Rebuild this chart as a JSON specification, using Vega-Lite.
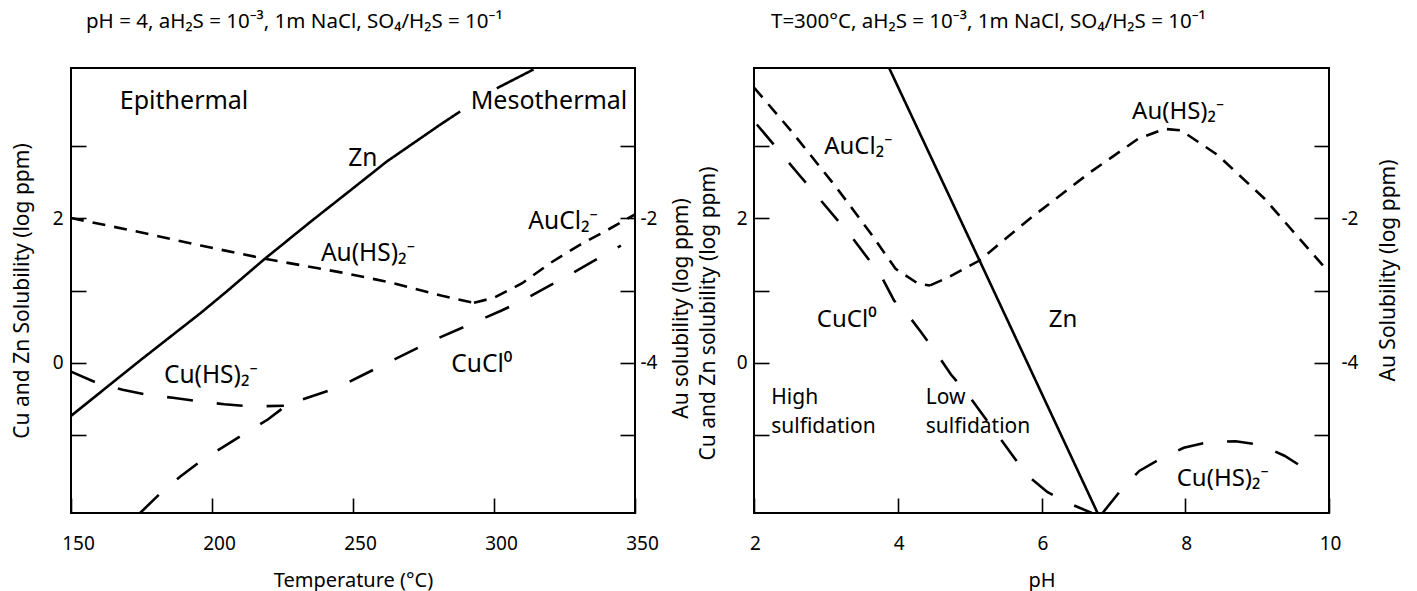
{
  "$schema": "https://vega.github.io/schema/vega-lite/v6.json",
  "background": "white",
  "padding": {"left": 10, "top": 10, "right": 8, "bottom": 5},
  "spacing": 3,
  "config": {
    "font": "Noto Sans",
    "view": {"stroke": "black", "strokeWidth": 2},
    "axis": {"domain": false, "grid": false, "tickColor": "black", "tickWidth": 1.6, "tickSize": -15, "labelFontSize": 19, "labelColor": "black", "titleFontSize": 21, "titleFontWeight": "normal", "titleColor": "black", "labelFlush": false, "labelBound": false, "labelOverlap": false},
    "axisX": {"titleFontSize": 20},
    "title": {"fontSize": 20.5, "fontWeight": "normal", "anchor": "start", "frame": "group", "color": "black"}
  },
  "datasets": {
    "curves": [
      {"panel": "T", "metal": "CuZn", "sp": "Zn", "seg": 1, "x": 150, "v": -0.73},
      {"panel": "T", "metal": "CuZn", "sp": "Zn", "seg": 1, "x": 175, "v": 0.05},
      {"panel": "T", "metal": "CuZn", "sp": "Zn", "seg": 1, "x": 196, "v": 0.69},
      {"panel": "T", "metal": "CuZn", "sp": "Zn", "seg": 1, "x": 205, "v": 0.98},
      {"panel": "T", "metal": "CuZn", "sp": "Zn", "seg": 1, "x": 218.5, "v": 1.43},
      {"panel": "T", "metal": "CuZn", "sp": "Zn", "seg": 1, "x": 235, "v": 1.95},
      {"panel": "T", "metal": "CuZn", "sp": "Zn", "seg": 1, "x": 250, "v": 2.41},
      {"panel": "T", "metal": "CuZn", "sp": "Zn", "seg": 1, "x": 262, "v": 2.78},
      {"panel": "T", "metal": "CuZn", "sp": "Zn", "seg": 1, "x": 281, "v": 3.29},
      {"panel": "T", "metal": "CuZn", "sp": "Zn", "seg": 1, "x": 288, "v": 3.47},
      {"panel": "T", "metal": "CuZn", "sp": "Zn", "seg": 2, "x": 301, "v": 3.79},
      {"panel": "T", "metal": "CuZn", "sp": "Zn", "seg": 2, "x": 314, "v": 4.05},
      {"panel": "T", "metal": "CuZn", "sp": "Cu(HS)2-", "x": 150, "v": -0.12},
      {"panel": "T", "metal": "CuZn", "sp": "Cu(HS)2-", "x": 159.5, "v": -0.28},
      {"panel": "T", "metal": "CuZn", "sp": "Cu(HS)2-", "x": 168.3, "v": -0.37},
      {"panel": "T", "metal": "CuZn", "sp": "Cu(HS)2-", "x": 177.2, "v": -0.44},
      {"panel": "T", "metal": "CuZn", "sp": "Cu(HS)2-", "x": 186.1, "v": -0.48},
      {"panel": "T", "metal": "CuZn", "sp": "Cu(HS)2-", "x": 195.5, "v": -0.53},
      {"panel": "T", "metal": "CuZn", "sp": "Cu(HS)2-", "x": 204.4, "v": -0.57},
      {"panel": "T", "metal": "CuZn", "sp": "Cu(HS)2-", "x": 213.8, "v": -0.6},
      {"panel": "T", "metal": "CuZn", "sp": "Cu(HS)2-", "x": 225.5, "v": -0.59},
      {"panel": "T", "metal": "CuZn", "sp": "CuCl0", "x": 174.5, "v": -2.07},
      {"panel": "T", "metal": "CuZn", "sp": "CuCl0", "x": 181.9, "v": -1.79},
      {"panel": "T", "metal": "CuZn", "sp": "CuCl0", "x": 189, "v": -1.56},
      {"panel": "T", "metal": "CuZn", "sp": "CuCl0", "x": 196.1, "v": -1.35},
      {"panel": "T", "metal": "CuZn", "sp": "CuCl0", "x": 204.3, "v": -1.15},
      {"panel": "T", "metal": "CuZn", "sp": "CuCl0", "x": 212.1, "v": -0.96},
      {"panel": "T", "metal": "CuZn", "sp": "CuCl0", "x": 219.8, "v": -0.78},
      {"panel": "T", "metal": "CuZn", "sp": "CuCl0", "x": 226.9, "v": -0.57},
      {"panel": "T", "metal": "CuZn", "sp": "CuCl0", "x": 244.5, "v": -0.34},
      {"panel": "T", "metal": "CuZn", "sp": "CuCl0", "x": 252.8, "v": -0.18},
      {"panel": "T", "metal": "CuZn", "sp": "CuCl0", "x": 277.7, "v": 0.3},
      {"panel": "T", "metal": "CuZn", "sp": "CuCl0", "x": 294.2, "v": 0.58},
      {"panel": "T", "metal": "CuZn", "sp": "CuCl0", "x": 302.5, "v": 0.72},
      {"panel": "T", "metal": "CuZn", "sp": "CuCl0", "x": 309.6, "v": 0.85},
      {"panel": "T", "metal": "CuZn", "sp": "CuCl0", "x": 326, "v": 1.2},
      {"panel": "T", "metal": "CuZn", "sp": "CuCl0", "x": 342.6, "v": 1.57},
      {"panel": "T", "metal": "CuZn", "sp": "CuCl0", "x": 345, "v": 1.62},
      {"panel": "T", "metal": "Au", "sp": "Au(HS)2-", "x": 150, "v": -2.0},
      {"panel": "T", "metal": "Au", "sp": "Au(HS)2-", "x": 175, "v": -2.2},
      {"panel": "T", "metal": "Au", "sp": "Au(HS)2-", "x": 196, "v": -2.38},
      {"panel": "T", "metal": "Au", "sp": "Au(HS)2-", "x": 218.5, "v": -2.56},
      {"panel": "T", "metal": "Au", "sp": "Au(HS)2-", "x": 245.7, "v": -2.75},
      {"panel": "T", "metal": "Au", "sp": "Au(HS)2-", "x": 263.5, "v": -2.89},
      {"panel": "T", "metal": "Au", "sp": "Au(HS)2-", "x": 281.2, "v": -3.07},
      {"panel": "T", "metal": "Au", "sp": "Au(HS)2-", "x": 292.9, "v": -3.17},
      {"panel": "T", "metal": "Au", "sp": "AuCl2-", "x": 292.9, "v": -3.17},
      {"panel": "T", "metal": "Au", "sp": "AuCl2-", "x": 300, "v": -3.1},
      {"panel": "T", "metal": "Au", "sp": "AuCl2-", "x": 310, "v": -2.9},
      {"panel": "T", "metal": "Au", "sp": "AuCl2-", "x": 320, "v": -2.62},
      {"panel": "T", "metal": "Au", "sp": "AuCl2-", "x": 330, "v": -2.38},
      {"panel": "T", "metal": "Au", "sp": "AuCl2-", "x": 340, "v": -2.17},
      {"panel": "T", "metal": "Au", "sp": "AuCl2-", "x": 350, "v": -1.95},
      {"panel": "pH", "metal": "CuZn", "sp": "Zn", "x": 3.88, "v": 4.07},
      {"panel": "pH", "metal": "CuZn", "sp": "Zn", "x": 5.14, "v": 1.41},
      {"panel": "pH", "metal": "CuZn", "sp": "Zn", "x": 6.78, "v": -2.07},
      {"panel": "pH", "metal": "CuZn", "sp": "CuCl0", "x": 2.04, "v": 3.29},
      {"panel": "pH", "metal": "CuZn", "sp": "CuCl0", "x": 2.65, "v": 2.57},
      {"panel": "pH", "metal": "CuZn", "sp": "CuCl0", "x": 3.35, "v": 1.75},
      {"panel": "pH", "metal": "CuZn", "sp": "CuCl0", "x": 3.77, "v": 1.2},
      {"panel": "pH", "metal": "CuZn", "sp": "CuCl0", "x": 3.95, "v": 0.86},
      {"panel": "pH", "metal": "CuZn", "sp": "CuCl0", "x": 4.1, "v": 0.72},
      {"panel": "pH", "metal": "CuZn", "sp": "CuCl0", "x": 4.32, "v": 0.43},
      {"panel": "pH", "metal": "CuZn", "sp": "CuCl0", "x": 4.53, "v": 0.15},
      {"panel": "pH", "metal": "CuZn", "sp": "CuCl0", "x": 4.74, "v": -0.16},
      {"panel": "pH", "metal": "CuZn", "sp": "CuCl0", "x": 4.95, "v": -0.4},
      {"panel": "pH", "metal": "CuZn", "sp": "CuCl0", "x": 5.6, "v": -1.28},
      {"panel": "pH", "metal": "CuZn", "sp": "CuCl0", "x": 5.8, "v": -1.55},
      {"panel": "pH", "metal": "CuZn", "sp": "CuCl0", "x": 6.08, "v": -1.78},
      {"panel": "pH", "metal": "CuZn", "sp": "CuCl0", "x": 6.39, "v": -1.94},
      {"panel": "pH", "metal": "CuZn", "sp": "CuCl0", "x": 6.7, "v": -2.07},
      {"panel": "pH", "metal": "CuZn", "sp": "Cu(HS)2-", "x": 6.85, "v": -2.07},
      {"panel": "pH", "metal": "CuZn", "sp": "Cu(HS)2-", "x": 7.1, "v": -1.76},
      {"panel": "pH", "metal": "CuZn", "sp": "Cu(HS)2-", "x": 7.36, "v": -1.49},
      {"panel": "pH", "metal": "CuZn", "sp": "Cu(HS)2-", "x": 7.64, "v": -1.33},
      {"panel": "pH", "metal": "CuZn", "sp": "Cu(HS)2-", "x": 7.98, "v": -1.17},
      {"panel": "pH", "metal": "CuZn", "sp": "Cu(HS)2-", "x": 8.33, "v": -1.09},
      {"panel": "pH", "metal": "CuZn", "sp": "Cu(HS)2-", "x": 8.7, "v": -1.08},
      {"panel": "pH", "metal": "CuZn", "sp": "Cu(HS)2-", "x": 9.05, "v": -1.13},
      {"panel": "pH", "metal": "CuZn", "sp": "Cu(HS)2-", "x": 9.38, "v": -1.28},
      {"panel": "pH", "metal": "CuZn", "sp": "Cu(HS)2-", "x": 9.7, "v": -1.48},
      {"panel": "pH", "metal": "Au", "sp": "AuCl2-", "x": 2.0, "v": -0.2},
      {"panel": "pH", "metal": "Au", "sp": "AuCl2-", "x": 2.51, "v": -0.79},
      {"panel": "pH", "metal": "Au", "sp": "AuCl2-", "x": 3.14, "v": -1.57},
      {"panel": "pH", "metal": "Au", "sp": "AuCl2-", "x": 3.63, "v": -2.22},
      {"panel": "pH", "metal": "Au", "sp": "AuCl2-", "x": 3.97, "v": -2.7},
      {"panel": "pH", "metal": "Au", "sp": "AuCl2-", "x": 4.29, "v": -2.91},
      {"panel": "pH", "metal": "Au", "sp": "AuCl2-", "x": 4.45, "v": -2.93},
      {"panel": "pH", "metal": "Au", "sp": "Au(HS)2-", "x": 4.45, "v": -2.93},
      {"panel": "pH", "metal": "Au", "sp": "Au(HS)2-", "x": 4.7, "v": -2.82},
      {"panel": "pH", "metal": "Au", "sp": "Au(HS)2-", "x": 5.13, "v": -2.59},
      {"panel": "pH", "metal": "Au", "sp": "Au(HS)2-", "x": 5.85, "v": -2.0},
      {"panel": "pH", "metal": "Au", "sp": "Au(HS)2-", "x": 6.69, "v": -1.36},
      {"panel": "pH", "metal": "Au", "sp": "Au(HS)2-", "x": 7.34, "v": -0.91},
      {"panel": "pH", "metal": "Au", "sp": "Au(HS)2-", "x": 7.71, "v": -0.77},
      {"panel": "pH", "metal": "Au", "sp": "Au(HS)2-", "x": 7.94, "v": -0.79},
      {"panel": "pH", "metal": "Au", "sp": "Au(HS)2-", "x": 8.45, "v": -1.13},
      {"panel": "pH", "metal": "Au", "sp": "Au(HS)2-", "x": 9.1, "v": -1.73},
      {"panel": "pH", "metal": "Au", "sp": "Au(HS)2-", "x": 10, "v": -2.75}
    ],
    "labels": [
      {"panel": "T", "kind": "big", "text": "Epithermal", "x": 190.1, "v": 3.62},
      {"panel": "T", "kind": "big", "text": "Mesothermal", "x": 319.5, "v": 3.61},
      {"panel": "T", "kind": "sp", "text": "Zn", "x": 253.5, "v": 2.82},
      {"panel": "T", "kind": "sp", "text": "Au(HS)₂⁻", "x": 255.3, "v": 1.51},
      {"panel": "T", "kind": "sp", "text": "AuCl₂⁻", "x": 324.5, "v": 1.95},
      {"panel": "T", "kind": "sp", "text": "Cu(HS)₂⁻", "x": 199.6, "v": -0.18},
      {"panel": "T", "kind": "sp", "text": "CuCl⁰", "x": 295.7, "v": -0.03},
      {"panel": "pH", "kind": "sp", "text": "AuCl₂⁻", "x": 3.45, "v": 2.98},
      {"panel": "pH", "kind": "sp", "text": "CuCl⁰", "x": 3.29, "v": 0.59},
      {"panel": "pH", "kind": "sp", "text": "Zn", "x": 6.3, "v": 0.59},
      {"panel": "pH", "kind": "sp", "text": "Au(HS)₂⁻", "x": 7.9, "v": 3.46},
      {"panel": "pH", "kind": "sp", "text": "Cu(HS)₂⁻", "x": 8.52, "v": -1.6},
      {"panel": "pH", "kind": "zone", "text": "High", "x": 2.24, "v": -0.48},
      {"panel": "pH", "kind": "zone", "text": "sulfidation", "x": 2.24, "v": -0.89},
      {"panel": "pH", "kind": "zone", "text": "Low", "x": 4.39, "v": -0.48},
      {"panel": "pH", "kind": "zone", "text": "sulfidation", "x": 4.39, "v": -0.89}
    ]
  },
  "hconcat": [
    {
      "width": 564,
      "height": 445,
      "title": {"text": "pH = 4, aH₂S = 10⁻³, 1m NaCl, SO₄/H₂S = 10⁻¹", "dx": 15, "offset": 36},
      "layer": [
        {
          "data": {"name": "curves"},
          "transform": [{"filter": "datum.panel === 'T' && datum.metal === 'CuZn'"}],
          "mark": {"type": "line", "strokeWidth": 2.6, "color": "black", "clip": true},
          "encoding": {
            "x": {"field": "x", "type": "quantitative", "scale": {"domain": [150, 350], "nice": false, "zero": false},
                  "axis": {"title": "Temperature (°C)", "values": [150, 200, 250, 300, 350], "format": "d", "labelPadding": 36, "titlePadding": 17, "labelOffset": 7}},
            "y": {"field": "v", "type": "quantitative", "scale": {"domain": [-2.07, 4.07], "nice": false, "zero": false},
                  "axis": {"title": "Cu and Zn Solubility (log ppm)", "orient": "left", "values": [-1, 0, 1, 2, 3], "labelExpr": "datum.value % 2 === 0 ? '' + datum.value : ''", "labelPadding": 23, "titlePadding": 20}},
            "strokeDash": {"field": "sp", "type": "nominal", "scale": {"domain": ["Zn", "Cu(HS)2-", "CuCl0", "Au(HS)2-", "AuCl2-"], "range": [[1, 0], [26, 24], [26, 24], [13, 9], [13, 9]]}, "legend": null},
            "detail": {"field": "seg", "type": "nominal"}
          }
        },
        {
          "data": {"name": "curves"},
          "transform": [{"filter": "datum.panel === 'T' && datum.metal === 'Au'"}],
          "mark": {"type": "line", "strokeWidth": 2.6, "color": "black", "clip": true},
          "encoding": {
            "x": {"field": "x", "type": "quantitative"},
            "y": {"field": "v", "type": "quantitative", "scale": {"domain": [-6.07, 0.07], "nice": false, "zero": false},
                  "axis": {"title": "Au solubility (log ppm)", "orient": "right", "titleAngle": 270, "titleBaseline": "top", "titleY": 240, "values": [-5, -4, -3, -2, -1], "labelExpr": "datum.value % 2 === 0 ? '' + datum.value : ''", "labelPadding": 20, "titlePadding": 14}},
            "strokeDash": {"field": "sp", "type": "nominal", "legend": null}
          }
        },
        {
          "data": {"name": "labels"},
          "transform": [{"filter": "datum.panel === 'T'"}],
          "mark": {"type": "text", "color": "black", "align": "center", "baseline": "middle"},
          "encoding": {
            "x": {"field": "x", "type": "quantitative"},
            "y": {"field": "v", "type": "quantitative", "scale": {"domain": [-2.07, 4.07], "nice": false, "zero": false}, "axis": null},
            "text": {"field": "text"},
            "size": {"field": "kind", "type": "nominal", "scale": {"domain": ["big", "sp", "zone"], "range": [25, 24, 21]}, "legend": null}
          }
        }
      ],
      "resolve": {"scale": {"y": "independent"}}
    },
    {
      "width": 575,
      "height": 445,
      "title": {"text": "T=300°C, aH₂S = 10⁻³, 1m NaCl, SO₄/H₂S = 10⁻¹", "dx": 17, "offset": 36},
      "layer": [
        {
          "data": {"name": "curves"},
          "transform": [{"filter": "datum.panel === 'pH' && datum.metal === 'CuZn'"}],
          "mark": {"type": "line", "strokeWidth": 2.6, "color": "black", "clip": true},
          "encoding": {
            "x": {"field": "x", "type": "quantitative", "scale": {"domain": [2, 10], "nice": false, "zero": false},
                  "axis": {"title": "pH", "values": [2, 4, 6, 8, 10], "format": "d", "labelPadding": 36, "titlePadding": 17, "labelOffset": 1}},
            "y": {"field": "v", "type": "quantitative", "scale": {"domain": [-2.07, 4.07], "nice": false, "zero": false},
                  "axis": {"title": "Cu and Zn solubility (log ppm)", "orient": "left", "titleY": 245, "values": [-1, 0, 1, 2, 3], "labelExpr": "datum.value % 2 === 0 ? '' + datum.value : ''", "labelPadding": 22, "titlePadding": 18}},
            "strokeDash": {"field": "sp", "type": "nominal", "legend": null}
          }
        },
        {
          "data": {"name": "curves"},
          "transform": [{"filter": "datum.panel === 'pH' && datum.metal === 'Au'"}],
          "mark": {"type": "line", "strokeWidth": 2.6, "color": "black", "clip": true},
          "encoding": {
            "x": {"field": "x", "type": "quantitative"},
            "y": {"field": "v", "type": "quantitative", "scale": {"domain": [-6.07, 0.07], "nice": false, "zero": false},
                  "axis": {"title": "Au Solubility (log ppm)", "orient": "right", "titleAngle": 270, "titleBaseline": "top", "titleY": 202, "values": [-5, -4, -3, -2, -1], "labelExpr": "datum.value % 2 === 0 ? '' + datum.value : ''", "labelPadding": 27, "titlePadding": 20}},
            "strokeDash": {"field": "sp", "type": "nominal", "legend": null}
          }
        },
        {
          "data": {"name": "labels"},
          "transform": [{"filter": "datum.panel === 'pH' && datum.kind !== 'zone'"}],
          "mark": {"type": "text", "fontSize": 24, "color": "black", "align": "center", "baseline": "middle"},
          "encoding": {
            "x": {"field": "x", "type": "quantitative"},
            "y": {"field": "v", "type": "quantitative", "scale": {"domain": [-2.07, 4.07], "nice": false, "zero": false}, "axis": null},
            "text": {"field": "text"}
          }
        },
        {
          "data": {"name": "labels"},
          "transform": [{"filter": "datum.panel === 'pH' && datum.kind === 'zone'"}],
          "mark": {"type": "text", "fontSize": 21, "color": "black", "align": "left", "baseline": "middle"},
          "encoding": {
            "x": {"field": "x", "type": "quantitative"},
            "y": {"field": "v", "type": "quantitative", "scale": {"domain": [-2.07, 4.07], "nice": false, "zero": false}, "axis": null},
            "text": {"field": "text"}
          }
        }
      ],
      "resolve": {"scale": {"y": "independent"}}
    }
  ]
}
